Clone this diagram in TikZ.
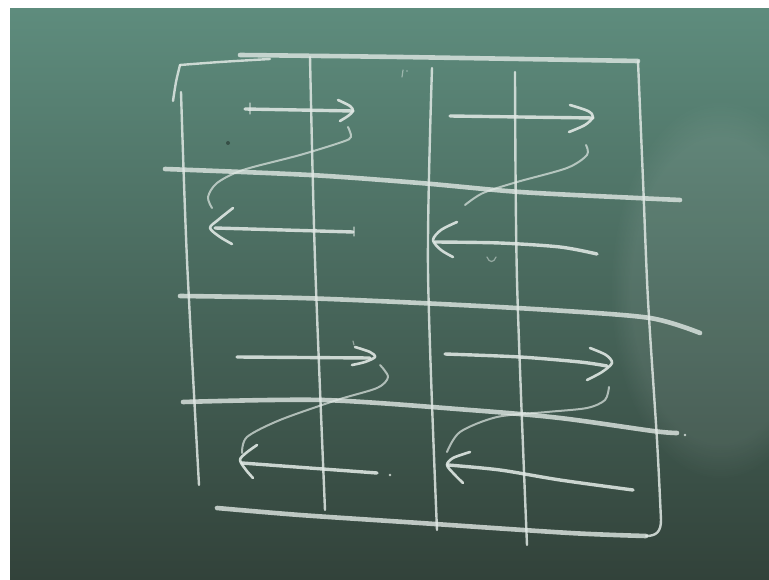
\documentclass[tikz,border=0pt]{standalone}
\usetikzlibrary{fadings}
\begin{document}
\definecolor{chalk}{RGB}{224,232,228}
\definecolor{boardtop}{RGB}{94,140,125}
\definecolor{boardmid}{RGB}{72,112,98}
\definecolor{boardbot}{RGB}{50,66,58}
\tikzset{
  chalkline/.style={draw=chalk, line cap=round, line join=round, line width=2.2pt, opacity=0.9},
  vline/.style={chalkline, line width=2.4pt, opacity=0.85},
  hline/.style={chalkline, line width=4.6pt, opacity=0.8},
  shaft/.style={chalkline, line width=3.4pt, opacity=0.88},
  head/.style={chalkline, line width=2.6pt},
  swirl/.style={chalkline, line width=2pt, opacity=0.7},
  faint/.style={chalkline, line width=1.2pt, opacity=0.5}
}
\begin{tikzpicture}[x=1pt,y=-1pt]
\useasboundingbox (0,0) rectangle (769,580);
% board
\fill[white] (0,0) rectangle (769,580);
\shade[top color=boardtop, middle color=boardmid, bottom color=boardbot] (10,9) rectangle (769,580);
\fill[white, opacity=0.07, path fading=circle with fuzzy edge 20 percent] (720,290) ellipse (110 and 190);
\fill[black, opacity=0.35] (228,143) circle (2);
% outer frame pieces
\draw[hline] plot[smooth] coordinates {(240,55) (400,57) (638,61)};
\draw[vline] plot[smooth] coordinates {(180,65) (220,62) (270,59)};
\draw[vline] plot[smooth] coordinates {(180,65) (176,82) (173,101)};
% vertical grid lines
\draw[vline] plot[smooth] coordinates {(181,92) (187,260) (199,485)};
\draw[vline] plot[smooth] coordinates {(310,57) (315,260) (325,510)};
\draw[vline] plot[smooth] coordinates {(432,68) (428,270) (437,530)};
\draw[vline] plot[smooth] coordinates {(515,72) (517,280) (527,545)};
\draw[vline] plot[smooth] coordinates {(638,61) (643,180) (648,300) (657,440) (661,520)}
   .. controls (661,532) and (656,536) .. (646,536);
% horizontal grid lines
\draw[hline] plot[smooth] coordinates {(165,169) (310,175) (420,183) (520,192) (637,198) (680,200)};
\draw[hline] plot[smooth] coordinates {(180,296) (300,298) (420,303) (550,310) (650,318) (700,333)};
\draw[hline] plot[smooth] coordinates {(183,402) (323,400) (470,410) (560,418) (653,431) (677,433)};
\fill[chalk, opacity=0.8] (685,435) circle (1.3);
\draw[hline] plot[smooth] coordinates {(217,508) (300,515) (420,523) (570,533) (646,536)};
% block 1 (top-left)
\draw[shaft] (245,109) -- (353,111);
\draw[head] plot[smooth] coordinates {(338,100) (350,106) (353,111) (348,116) (340,121)};
\draw[faint] (250,103) -- (250,114);
\draw[swirl] plot[smooth] coordinates {(348,127) (351,137) (342,142) (300,155) (243,170) (217,183) (208,197) (212,208)};
\draw[shaft] (353,232) -- (215,228);
\draw[faint] (354,227) -- (354,236);
\draw[head] plot[smooth] coordinates {(233,208) (218,220) (210,228) (220,237) (232,244)};
% block 2 (top-right)
\draw[shaft] (450,116) -- (593,118);
\draw[head] plot[smooth] coordinates {(570,105) (588,111) (593,117) (585,125) (569,132)};
\draw[swirl] plot[smooth] coordinates {(586,145) (587,155) (567,168) (517,182) (483,193) (465,205)};
\draw[shaft] plot[smooth] coordinates {(597,254) (560,247) (500,243) (435,242)};
\draw[head] plot[smooth] coordinates {(457,222) (441,230) (433,240) (441,250) (453,257)};
% block 3 (bottom-left)
\draw[shaft] (237,357) -- (370,358);
\draw[head] plot[smooth] coordinates {(355,347) (370,352) (375,357) (365,362) (352,365)};
\draw[faint] (353,341) -- (354,345);
\draw[swirl] plot[smooth] coordinates {(380,365) (388,377) (377,388) (337,400) (280,420) (247,437) (242,453)};
\draw[shaft] (377,473) -- (242,463);
\draw[head] plot[smooth] coordinates {(257,445) (246,453) (240,460) (246,470) (253,478)};
\fill[chalk, opacity=0.8] (390,475) circle (1.3);
% block 4 (bottom-right)
\draw[shaft] plot[smooth] coordinates {(445,354) (520,357) (580,362) (607,366)};
\draw[head] plot[smooth] coordinates {(590,348) (606,355) (612,363) (602,372) (587,380)};
\draw[swirl] plot[smooth] coordinates {(609,387) (605,400) (587,408) (547,412) (497,417) (460,432) (447,452)};
\draw[shaft] plot[smooth] coordinates {(633,490) (560,480) (500,470) (448,465)};
\draw[head] plot[smooth] coordinates {(470,452) (453,458) (447,465) (454,474) (463,483)};
% small smudges
\draw[faint] (403,70) -- (402,77);
\fill[chalk, opacity=0.5] (407,71) circle (0.9);
\draw[faint] (487,257) .. controls (489,263) and (494,263) .. (496,257);
\end{tikzpicture}
\end{document}
